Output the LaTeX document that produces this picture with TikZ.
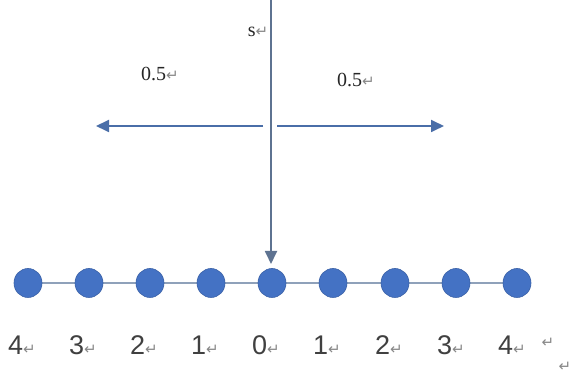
\documentclass[tikz,border=0pt]{standalone}
\usepackage{fontspec}
\setmainfont{Liberation Serif}
\newfontfamily\numfont{Liberation Sans}
\newfontfamily\symfont{DejaVu Sans}
\usetikzlibrary{arrows.meta,shapes.geometric}
\definecolor{offblue}{HTML}{4472C4}
\definecolor{lineblue}{HTML}{4A6EA8}
\definecolor{vgray}{HTML}{5E7391}
\definecolor{cgray}{HTML}{8FA1BA}
\definecolor{markgray}{HTML}{888888}
\newcommand{\pmark}{{\symfont\color{markgray}\fontsize{15}{15}\selectfont ↵}}
\tikzset{
  dot/.style={ellipse, fill=offblue, draw=offblue!85!black, line width=0.6pt, minimum width=28pt, minimum height=29pt, inner sep=0pt},
  arr/.style={draw=lineblue, line width=1.8pt, -{Triangle[length=13pt,width=12pt]}, color=lineblue},
  numlab/.style={font=\numfont\fontsize{27}{27}\selectfont, text=black!75, inner sep=0pt},
  toplab/.style={font=\fontsize{20}{20}\selectfont, text=black!85, inner sep=0pt}
}
\begin{document}
\begin{tikzpicture}[x=1pt,y=-1pt]
\useasboundingbox[fill=white] (0,0) rectangle (576,379);
% dots
\foreach \i/\x in {0/28,1/89,2/150,3/211,4/272,5/333,6/395,7/456,8/517} {
  \coordinate (c\i) at (\x,283);
}
\draw[draw=cgray, line width=1.8pt] (c0) -- (c8);
\foreach \i in {0,...,8} { \node[dot] (d\i) at (c\i) {}; }
% vertical arrow
\coordinate (vtop) at (271,0);
\coordinate (vbot) at (271,264);
\draw[arr, draw=vgray] (vtop) -- (vbot);
% horizontal arrows
\coordinate (lstart) at (263,126);
\coordinate (lend) at (96,126);
\coordinate (rstart) at (277,126);
\coordinate (rend) at (444,126);
\draw[arr] (lstart) -- (lend);
\draw[arr] (rstart) -- (rend);
% labels
\node[toplab] (s) at (258,32) {s\pmark};
\node[toplab] (la) at (160,74) {0.5\pmark};
\node[toplab] (lb) at (356,80) {0.5\pmark};
\foreach \i/\x/\t in {0/22/4,1/83/3,2/144/2,3/205/1,4/266/0,5/327/1,6/389/2,7/451/3,8/512/4} {
  \node[numlab] (n\i) at (\x,345) {\t\pmark};
}
\node[inner sep=0pt] (e1) at (548,343) {\pmark};
\node[inner sep=0pt] (e2) at (565,367) {\pmark};
\end{tikzpicture}
\end{document}
